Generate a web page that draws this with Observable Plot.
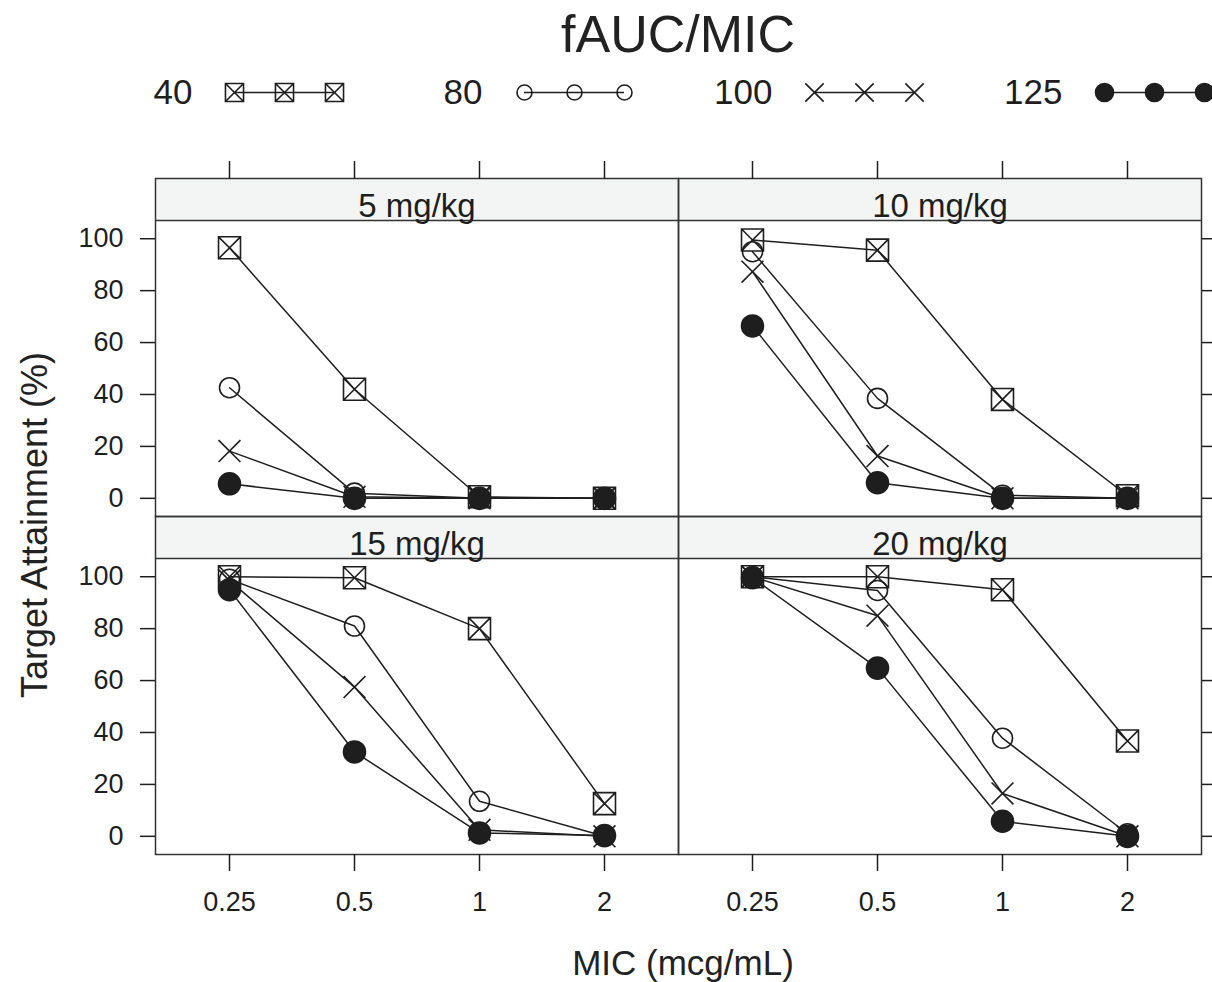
<!DOCTYPE html>
<html>
<head>
<meta charset="utf-8">
<script src="https://cdn.jsdelivr.net/npm/d3@7"></script>
<script src="https://cdn.jsdelivr.net/npm/@observablehq/plot@0.6"></script>
<style>
  html, body { margin: 0; padding: 0; background: #fff; }
  #root { position: relative; width: 1212px; height: 982px; font-family: "Liberation Sans", Arial, sans-serif; color: #222; overflow: hidden; }
  .abs { position: absolute; white-space: nowrap; line-height: 1; }
</style>
</head>
<body>
<div id="root">
  <div id="legend" class="abs" style="left:0;top:60px;"></div>
  <div id="chart" class="abs" style="left:0;top:130px;"></div>
  <div id="title" class="abs" style="left:155px;width:1046px;top:8px;text-align:center;font-size:52px;">fAUC/MIC</div>
  <div id="xlabel" class="abs" style="left:160px;width:1046px;top:945px;text-align:center;font-size:35px;">MIC (mcg/mL)</div>
  <div id="ylabel" class="abs" style="left:35px;top:525px;font-size:36px;transform:translate(-50%,-50%) rotate(-90deg);">Target Attainment (%)</div>
</div>
<script>
// ---------- data ----------
const mic = [0.25, 0.5, 1, 2];
const doses = ["5 mg/kg", "10 mg/kg", "15 mg/kg", "20 mg/kg"];
const targets = ["40", "80", "100", "125"];           // fAUC/MIC targets
const yTicks = [0, 20, 40, 60, 80, 100];
// Target attainment (%) — one row per fAUC/MIC target (40, 80, 100, 125), one column per MIC
const ta5  = [[96.5, 42, 0.6, 0], [42.6, 2, 0, 0], [18.2, 0.6, 0, 0], [5.6, 0, 0, 0]];
const ta10 = [[99.5, 95.6, 38.1, 1], [95, 38.5, 1.2, 0], [87.3, 16.3, 0, 0], [66.4, 6, 0, 0]];
const ta15 = [[100, 99.6, 80, 12.6], [99, 81, 13.5, 0], [98.5, 57.5, 2.5, 0], [95, 32.5, 1.3, 0.3]];
const ta20 = [[100, 100, 95, 36.7], [100, 94.7, 37.8, 1], [100, 85, 16.5, 0], [99.6, 64.8, 5.8, 0]];
const byDose = [ta5, ta10, ta15, ta20];

// ---------- build tables ----------
const panels = doses.map((d, i) => ({dose: d, row: Math.floor(i / 2), col: i % 2}));
const records = [];
panels.forEach((p, di) => {
  targets.forEach((t, ti) => {
    mic.forEach((m, mi) => {
      records.push({dose: p.dose, row: p.row, col: p.col, target: t, mic: m, value: byDose[di][ti][mi]});
    });
  });
});

// ---------- styles ----------
const INK = "#1e1e1e";
const FONT = "'Liberation Sans', Arial, sans-serif";
const squareX = {
  draw(ctx, size) {
    const s = Math.sqrt(size) / 2;
    ctx.moveTo(-s, -s); ctx.lineTo(s, -s); ctx.lineTo(s, s); ctx.lineTo(-s, s); ctx.closePath();
    ctx.moveTo(-s, -s); ctx.lineTo(s, s);
    ctx.moveTo(s, -s); ctx.lineTo(-s, s);
  }
};
const symStyle = {
  "40":  {symbol: squareX, fill: "none", panelR: 12.4, legendR: 10.2},
  "80":  {symbol: "circle", fill: "none", panelR: 10, legendR: 7.5},
  "100": {symbol: "times", fill: "none", panelR: 10, legendR: 8.4},
  "125": {symbol: "circle", fill: INK, panelR: 11, legendR: 9}
};

// x: log scale (equal spacing per doubling); padding of ~0.59 step on each side
const pad = Math.pow(2, 0.592);
const xDomain = [mic[0] / pad, mic[mic.length - 1] * pad];
const yDomain = [-7, 123.2];   // panel region -7..107, strip 107..123.2
const stripLow = 107, stripHigh = 123.2;

const symbolMarks = targets.map(t => Plot.dot(records.filter(r => r.target === t), {
  fx: "col", fy: "row", x: "mic", y: "value",
  symbol: symStyle[t].symbol, r: symStyle[t].panelR,
  fill: symStyle[t].fill, stroke: INK, strokeWidth: 1.6
}));

const chart = Plot.plot({
  width: 1212, height: 852,
  marginLeft: 155, marginRight: 11, marginTop: 48, marginBottom: 128,
  style: {fontFamily: FONT, color: INK, background: "transparent"},
  x: {type: "log", domain: xDomain},
  y: {domain: yDomain},
  fx: {axis: null, padding: 0, domain: [0, 1]},
  fy: {axis: null, padding: 0, domain: [0, 1]},
  marks: [
    Plot.rect(panels, {fx: "col", fy: "row", x1: xDomain[0], x2: xDomain[1], y1: stripLow, y2: stripHigh, fill: "#f3f5f4"}),
    Plot.ruleY(panels, {fx: "col", fy: "row", y: stripLow, stroke: "#333", strokeWidth: 1.5}),
    Plot.text(panels, {fx: "col", fy: "row", y: (stripLow + stripHigh) / 2, text: "dose", fontSize: 33, dy: 7, fill: INK}),
    Plot.line(records, {fx: "col", fy: "row", x: "mic", y: "value", z: "target", stroke: INK, strokeWidth: 1.5}),
    ...symbolMarks,
    Plot.frame({stroke: "#333", strokeWidth: 1.5}),
    Plot.axisY({anchor: "left", ticks: yTicks, tickSize: 15, tickPadding: 17, fontSize: 27, label: null, strokeWidth: 1.5}),
    Plot.axisY({anchor: "right", ticks: yTicks, tickSize: 12, tickFormat: () => "", label: null, strokeWidth: 1.5}),
    Plot.axisX({anchor: "bottom", ticks: mic, tickFormat: d => String(d), tickSize: 17, tickPadding: 20, fontSize: 27, label: null, strokeWidth: 1.5}),
    Plot.axisX({anchor: "top", ticks: mic, tickSize: 18, tickFormat: () => "", label: null, strokeWidth: 1.5})
  ]
});
document.getElementById("chart").appendChild(chart);

// ---------- legend (also drawn with Plot) ----------
const legendPts = targets.flatMap(t => [0, 1, 2].map(k => ({target: t, k})));
const legend = Plot.plot({
  width: 1212, height: 64,
  marginLeft: 232, marginRight: 7, marginTop: 0, marginBottom: 0,
  style: {fontFamily: FONT, color: INK, background: "transparent", overflow: "visible"},
  x: {domain: [0, 2], axis: null},
  y: {domain: [-1, 1], axis: null},
  fx: {domain: targets, paddingInner: 0.656, paddingOuter: 0, axis: null},
  marks: [
    Plot.ruleY(targets, {fx: d => d, y: 0, x1: 0, x2: 2, stroke: INK, strokeWidth: 1.5}),
    ...targets.map(t => Plot.dot(legendPts.filter(p => p.target === t), {
      fx: "target", x: "k", y: 0,
      symbol: symStyle[t].symbol, r: symStyle[t].legendR,
      fill: symStyle[t].fill, stroke: INK, strokeWidth: 1.6
    })),
    Plot.text(targets, {fx: d => d, x: 0, y: 0, text: d => d, dx: -42, textAnchor: "end", fontSize: 35, fill: INK})
  ]
});
document.getElementById("legend").appendChild(legend);
</script>
</body>
</html>
